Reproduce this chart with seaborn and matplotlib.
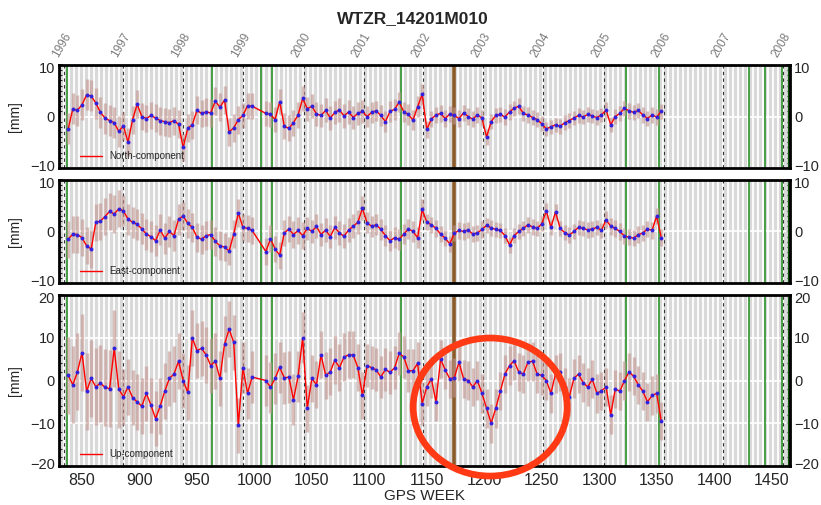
import numpy as np
import pandas as pd
import matplotlib
matplotlib.use("Agg")
import matplotlib.pyplot as plt
import matplotlib.transforms as mtransforms
from matplotlib.patches import Ellipse
from matplotlib.ticker import MultipleLocator
import seaborn as sns

STATION = "WTZR_14201M010"

# GPS weeks of the solutions (one value every 4 weeks)
WEEKS = np.arange(838, 1355, 4)

NORTH = [
    -2.4, 1.5, 1.2, 2.3, 4.2, 4.0, 2.6, 0.8, -0.3, -0.8,      # 838-874
    -1.2, -2.9, -1.8, -5.0, -0.6, 2.4, 0.0, -0.4, 0.2, -0.3,  # 878-914
    -0.8, -1.0, -1.2, -0.8, -1.5, -6.0, -2.3, -1.6, 1.2, 0.6,  # 918-954
    0.9, 0.7, 3.0, 1.8, 3.2, -3.0, -2.2, -0.6, 0.2, 2.1,       # 958-994
    2.0, np.nan, np.nan, 0.6, 0.4, -0.6, 2.9, -1.9, -2.3, -1.2,  # 998-1034
    0.3, 3.5, 1.5, 2.0, 0.5, 0.2, 1.2, -0.3, 0.8, 1.3,         # 1038-1074
    0.1, 0.9, -0.2, 0.6, 1.0, 0.0, 0.8, 1.1, 0.2, -1.0,        # 1078-1114
    1.0, 1.4, 2.8, 0.9, 0.4, -0.7, 1.9, 4.3, -2.5, -0.5,       # 1118-1154
    0.3, 0.6, -0.4, 0.5, 0.2, -0.4, 0.7, 0.0, -0.5, 0.3,       # 1158-1194
    -0.3, -4.0, -1.0, 0.2, 0.4, -0.1, 0.9, 1.6, 2.0, 0.6,      # 1198-1234
    0.3, -0.2, -0.6, -1.4, -2.4, -2.0, -1.6, -1.9, -1.2, -0.8,  # 1238-1274
    -0.3, 0.2, -0.1, 0.4, 0.1, -0.2, 0.3, 1.3, -1.6, 0.0,      # 1278-1314
    0.6, 1.6, 1.1, 0.8, 1.2, 0.3, -0.4, 0.3, -0.1, 1.0,        # 1318-1354
]

EAST = [
    -1.5, -0.5, -0.6, -1.2, -2.8, -3.4, 1.8, 2.0, 2.9, 3.9,
    3.4, 4.4, 4.0, 2.4, 1.8, 1.4, 0.5, -0.5, -1.0, -1.8,
    0.3, -1.3, 0.0, -0.8, 2.4, 3.0, 1.6, 0.8, -1.1, -1.5,
    -0.8, -0.6, -1.9, -2.8, -3.0, -3.8, -0.5, 3.6, 0.8, 0.6,
    0.2, np.nan, np.nan, -3.9, -1.4, -3.4, -4.6, -0.3, 0.5, -0.6,
    0.2, -0.8, 0.6, 0.0, 1.0, -0.6, 0.3, -1.0, 0.8, -0.3,
    -0.9, 0.3, 1.0, 1.8, 4.5, 1.7, 1.0, 1.3, 0.4, -0.8,
    -1.8, -1.2, -1.5, -0.5, 0.5, 0.0, -1.2, 4.3, 1.8, 1.3,
    0.6, -0.5, -1.3, -2.4, -0.3, 0.2, 0.0, 0.3, -0.5, -0.3,
    0.4, 1.2, 0.7, 0.4, 0.2, -0.8, -2.6, -0.8, 0.0, 0.6,
    1.3, 0.9, 0.6, 1.5, 4.0, 0.8, 3.8, 0.6, -0.2, -0.7,
    0.0, 0.8, 0.6, 0.3, 0.5, 0.8, 0.2, 2.3, 1.0, 0.6,
    0.0, -0.9, -1.1, -1.3, -0.6, -0.3, 0.5, 0.2, 3.0, -1.2,
]

UP = [
    1.2, -1.0, 2.0, 6.5, -2.5, 0.5, -1.5, -0.6, -1.6, -1.9,
    7.5, -2.0, -3.8, -1.5, -4.0, -5.0, -6.0, -3.0, -5.8, -8.9,
    -6.0, -2.5, 0.5, 1.5, 4.5, 0.0, -2.8, 10.0, 7.0, 7.5,
    6.0, 3.5, 4.5, 0.5, 8.5, 12.0, 8.9, -10.5, 3.0, -3.0,
    0.8, np.nan, np.nan, 0.0, -1.6, 0.5, 3.1, 0.6, 0.8, -4.5,
    1.0, 10.0, -6.5, 0.5, -1.0, 6.0, 1.2, 2.0, 4.8, 3.0,
    5.5, 6.0, 6.0, 3.0, -3.5, 3.5, 3.0, 2.5, 0.8, 2.6,
    1.9, 3.0, 6.4, 5.5, 2.3, 2.3, 4.0, -5.4, -1.5, 0.4,
    -5.0, 5.0, 2.5, 0.4, 0.7, 4.3, 0.4, 0.0, -1.5, 0.0,
    -3.0, -6.5, -10.0, -6.5, -2.5, 1.5, 3.5, 4.6, 2.0, 1.5,
    4.3, 4.5, 1.5, 1.2, 0.0, -3.0, 1.5, 2.0, -1.5, -3.8,
    0.5, 1.5, -0.5, -1.5, 0.3, -3.0, -2.4, -1.5, -8.0, -2.0,
    -2.5, 0.0, 2.0, 1.0, -1.0, -2.5, -5.0, -3.5, -3.0, -9.5,
]

# typical error bar half-length per year (1996..2005)
NORTH_ERR = [3.0, 2.7, 2.7, 2.5, 2.3, 2.0, 1.6, 1.5, 1.4, 1.5]
EAST_ERR = [3.6, 3.0, 2.8, 2.6, 2.3, 2.0, 1.6, 1.5, 1.5, 1.6]
UP_ERR = [9.0, 6.5, 6.5, 6.0, 5.5, 5.0, 4.5, 4.5, 4.5, 4.5]

YEARS = [1996, 1997, 1998, 1999, 2000, 2001, 2002, 2003, 2004, 2005, 2006, 2007, 2008]
YEAR_WEEKS = [834, 886, 938, 990, 1043, 1095, 1147, 1199, 1251, 1304, 1356, 1408, 1460]
GREEN_WEEKS = [837, 963.5, 1006, 1015, 1127.5, 1323, 1352, 1430, 1444.5, 1459]
BROWN_WEEK = 1173.5
X_TICKS = list(range(850, 1451, 50))
XLIM = (830, 1466)

sns.set_theme(style="ticks")
plt.rcParams["font.family"] = ["Liberation Sans", "DejaVu Sans"]

fig = plt.figure(figsize=(8.21, 5.05), dpi=100)
ax_n = fig.add_axes([0.0719, 0.6673, 0.8903, 0.204])
ax_e = fig.add_axes([0.0719, 0.4396, 0.8903, 0.204])
ax_u = fig.add_axes([0.0719, 0.0772, 0.8903, 0.3386])

month_weeks = np.arange(XLIM[0] + 4.0, XLIM[1], 52.1775 / 12)


def nudge(label, dy_pt):
    off = mtransforms.ScaledTranslation(0, dy_pt / 72, fig.dpi_scale_trans)
    label.set_transform(label.get_transform() + off)


def draw_panel(ax, values, err_year, ylim, yticks, minor, label):
    ax.set_facecolor("#d9d9d9")
    for w in month_weeks:
        ax.axvline(w, color="white", lw=1.3, zorder=0.5)
    for t in yticks:
        ax.axhline(t, color="white", lw=1.2, zorder=0.6)
    for w in YEAR_WEEKS:
        ax.axvline(w, color="#333333", lw=0.8, ls=(0, (3, 3)), zorder=1)
    for w in GREEN_WEEKS:
        ax.axvline(w, color="#3a9a3a", lw=1.3, zorder=1)
    ax.axvline(1465, color="#0d4d0d", lw=2.5, zorder=1)
    ax.axvline(BROWN_WEEK, color="#8a5a28", lw=2.6, zorder=1)

    df = pd.DataFrame({"week": WEEKS, "mm": values}).dropna()
    idx = np.searchsorted(YEAR_WEEKS, df["week"], side="right") - 1
    err = np.array(err_year)[idx]
    ax.vlines(df["week"], df["mm"] - err, df["mm"] + err,
              color="#c49690", lw=2.4, alpha=0.6, zorder=2)
    sns.lineplot(data=df, x="week", y="mm", ax=ax, color="red", lw=1.0,
                 estimator=None, sort=False, label=label, zorder=3)
    sns.scatterplot(data=df, x="week", y="mm", ax=ax, color="#3322dd",
                    s=8, linewidth=0, zorder=4)

    ax.set_xlim(*XLIM)
    ax.set_ylim(*ylim)
    ax.set_yticks(yticks)
    ax.yaxis.set_minor_locator(MultipleLocator(minor))
    ax.set_xticks(X_TICKS)
    ax.tick_params(axis="y", which="both", direction="in", left=True, right=True,
                   labelleft=True, labelright=True, labelsize=10.5, pad=3)
    ax.tick_params(axis="y", which="major", length=3)
    ax.tick_params(axis="y", which="minor", length=2.5, width=0.8)
    ax.tick_params(axis="x", direction="in", length=0, labelsize=11.5, pad=5)
    for s in ax.spines.values():
        s.set_color("black")
        s.set_linewidth(2)
    ax.set_ylabel("[mm]", fontsize=10)
    ax.yaxis.set_label_coords(-0.05, 0.5)
    ax.set_xlabel("")
    ax.legend(loc="lower left", bbox_to_anchor=(0.02, 0.0), frameon=False,
              fontsize=7, handlelength=2.2, borderaxespad=0.3)

    # keep the end labels of neighbouring panels apart
    ticks = ax.yaxis.get_major_ticks()
    for lbl in (ticks[0].label1, ticks[0].label2):
        nudge(lbl, 2.0)
    for lbl in (ticks[-1].label1, ticks[-1].label2):
        nudge(lbl, -2.0)


draw_panel(ax_n, NORTH, NORTH_ERR, (-10, 10), [-10, 0, 10], 1, "North-component")
draw_panel(ax_e, EAST, EAST_ERR, (-10, 10), [-10, 0, 10], 1, "East-component")
draw_panel(ax_u, UP, UP_ERR, (-20, 20), [-20, -10, 0, 10, 20], 2, "Up-component")

ax_n.tick_params(axis="x", labelbottom=False)
ax_e.tick_params(axis="x", labelbottom=False)
ax_u.set_xlabel("GPS WEEK", fontsize=11, labelpad=1)

# year labels above the top panel
trans = mtransforms.blended_transform_factory(ax_n.transData, ax_n.transAxes)
for yr, w in zip(YEARS, YEAR_WEEKS):
    ax_n.text(w - 3, 1.05, str(yr), transform=trans, rotation=60,
              rotation_mode="anchor", ha="left", va="bottom",
              fontsize=8.5, color="#7a7a7a")

fig.text(0.503, 0.964, STATION, ha="center", va="center",
         fontsize=12.5, fontweight="bold")

# highlight circle
fig.add_artist(Ellipse((0.597, 0.194), 0.1876, 0.2733, transform=fig.transFigure,
                       fill=False, ec="#ff3a14", lw=4.8, zorder=10))

fig.savefig("out.png", dpi=100)
